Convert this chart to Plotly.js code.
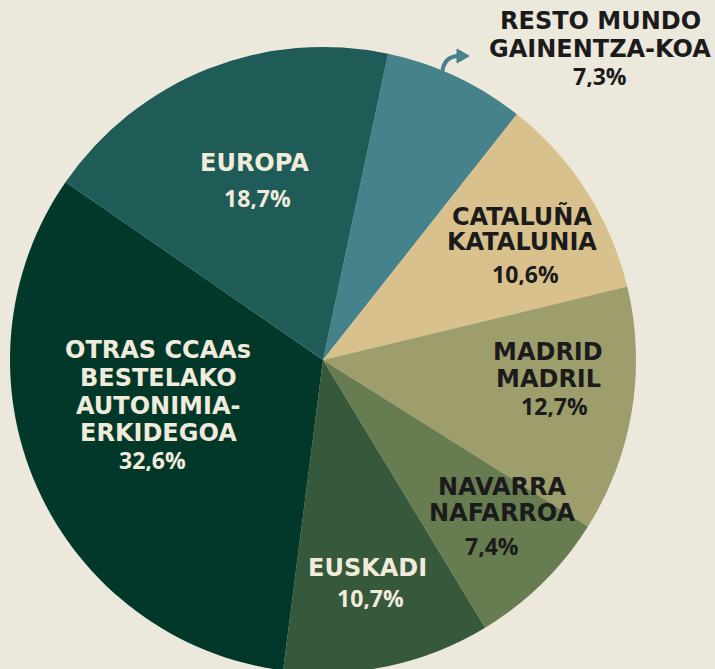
<!DOCTYPE html>
<html>
<head>
<meta charset="utf-8">
<script src="https://cdn.plot.ly/plotly-3.0.1.min.js"></script>
<style>
  html, body { margin: 0; padding: 0; overflow: hidden; background: #ede8dc; }
  #chart { width: 715px; height: 680px; }
</style>
</head>
<body>
<div id="chart"></div>
<script>
// ---- data ----
const categories = ['Resto Mundo', 'Cataluña', 'Madrid', 'Navarra', 'Euskadi', 'Otras CCAAs', 'Europa'];
const values = [7.3, 10.6, 12.7, 7.4, 10.7, 32.6, 18.7];
const labelLines = [
  ['RESTO MUNDO', 'GAINENTZA-KOA'],
  ['CATALUÑA', 'KATALUNIA'],
  ['MADRID', 'MADRIL'],
  ['NAVARRA', 'NAFARROA'],
  ['EUSKADI'],
  ['OTRAS CCAAs', 'BESTELAKO', 'AUTONIMIA-', 'ERKIDEGOA'],
  ['EUROPA']
];

// ---- styles ----
const colors = ['#45828b', '#d9c18e', '#9d9e6b', '#687c52', '#36593b', '#02382a', '#1f5b57'];
const textColors = ['#1b1b1b', '#1b1b1b', '#1b1b1b', '#1b1b1b', '#f1ebdc', '#f1ebdc', '#f1ebdc'];
const labelPos = [
  {x: 600, ys: [21, 49], px: 600, py: 76},
  {x: 522, ys: [216, 242], px: 525, py: 274},
  {x: 548, ys: [352, 379], px: 554, py: 406},
  {x: 502, ys: [487, 513], px: 492, py: 546},
  {x: 367, ys: [568], px: 370, py: 598},
  {x: 158, ys: [350, 378, 406, 433], px: 152, py: 460},
  {x: 254, ys: [163], px: 257, py: 198}
];

const W = 715, H = 680;
const fx = p => p / W;
const fy = p => 1 - p / H;

const annotations = [];
categories.forEach((c, i) => {
  const pos = labelPos[i];
  labelLines[i].forEach((line, j) => {
    const hasAccent = /[ÑÁÉÍÓÚ]/.test(line);
    annotations.push({
      xref: 'paper', yref: 'paper', x: fx(pos.x), y: fy(pos.ys[j]),
      xanchor: 'center', yanchor: 'middle', showarrow: false,
      height: hasAccent ? 30 : 22, borderpad: 0, valign: 'middle',
      text: line,
      font: {family: 'DejaVu Sans', size: 24, color: textColors[i], weight: 700}
    });
  });
  annotations.push({
    xref: 'paper', yref: 'paper', x: fx(pos.px), y: fy(pos.py),
    xanchor: 'center', yanchor: 'middle', showarrow: false,
    height: 22, borderpad: 0, valign: 'middle',
    text: values[i].toFixed(1).replace('.', ',') + '%',
    font: {family: 'Open Sans', size: 23, color: textColors[i], weight: 700}
  });
});

// curved arrow for Resto Mundo
const P = (x, y) => fx(x) + ',' + fy(y);
const shapes = [
  {
    type: 'path', xref: 'paper', yref: 'paper',
    path: 'M' + P(442, 74) + ' C' + P(443, 60) + ' ' + P(450, 56) + ' ' + P(459, 56),
    line: {color: '#45828b', width: 4}
  },
  {
    type: 'path', xref: 'paper', yref: 'paper',
    path: 'M' + P(457, 49) + ' L' + P(469, 56) + ' L' + P(457, 63) + ' Z',
    fillcolor: '#45828b', line: {color: '#45828b', width: 1}
  }
];

const trace = {
  type: 'pie',
  labels: categories,
  values: values,
  sort: false,
  direction: 'clockwise',
  rotation: 12,
  textinfo: 'none',
  hoverinfo: 'none',
  marker: {colors: colors, line: {width: 0}},
  domain: {x: [fx(10), fx(636)], y: [fy(673), fy(47)]},
  showlegend: false
};

const layout = {
  width: W, height: H,
  margin: {l: 0, r: 0, t: 0, b: 0},
  paper_bgcolor: '#ede8dc',
  plot_bgcolor: '#ede8dc',
  showlegend: false,
  annotations: annotations,
  shapes: shapes
};

Plotly.newPlot('chart', [trace], layout, {displayModeBar: false, staticPlot: true});
</script>
</body>
</html>
